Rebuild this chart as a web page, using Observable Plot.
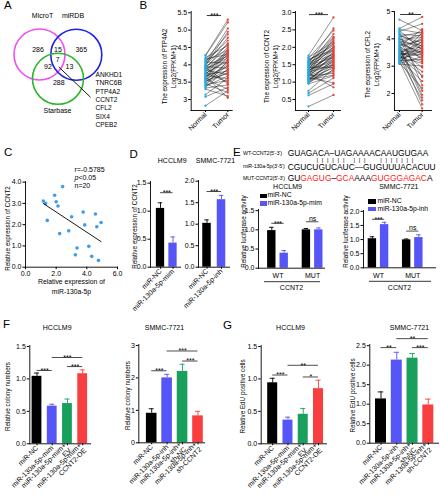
<!DOCTYPE html>
<html>
<head>
<meta charset="utf-8">
<script src="https://cdn.jsdelivr.net/npm/d3@7"></script>
<script src="https://cdn.jsdelivr.net/npm/@observablehq/plot@0.6"></script>
<style>
html, body { margin: 0; padding: 0; background: #fff; }
#fig { position: relative; width: 440px; height: 500px; overflow: hidden; font-family: "Liberation Sans", Arial, Helvetica, sans-serif; color: #000; background: #fff; }
#fig .t { position: absolute; white-space: pre; line-height: 1; }
#fig .box { position: absolute; }
</style>
</head>
<body>
<div id="fig"></div>
<script>
// ================= DATA =================
const vennSets = ["MicroT", "miRDB", "Starbase"];
// regions: MicroT only, MicroT∩miRDB, miRDB only, all three, MicroT∩Starbase, miRDB∩Starbase, Starbase only
const vennCounts = [286, 15, 365, 7, 92, 13, 288];
const sharedGenes = ["ANKHD1", "TNRC6B", "PTP4A2", "CCNT2", "CFL2", "SIX4", "CPEB2"];

const pairLabels = ["Normal", "Tumor"];
const ptp4a2Normal = [4.28,4.21,4.26,4.12,4.05,4.17,3.98,4.08,3.92,4.02,3.88,3.95,3.83,3.90,3.76,3.85,3.71,3.80,3.66,3.74,3.62,3.69,3.57,3.64,3.52,3.60,3.47,3.55,3.43,3.50,3.38,3.41,3.33,3.36,4.10,3.97,3.78,3.59,3.86,4.15,3.72,3.45,3.14,3.08,2.82,3.30,3.93,4.00,3.67,3.54];
const ptp4a2Tumor  = [5.30,4.55,5.22,4.42,5.05,4.30,4.95,4.05,4.50,4.78,4.20,3.90,4.35,4.62,4.10,3.72,4.45,4.28,3.95,4.15,4.32,3.60,4.02,4.38,3.85,4.22,3.78,4.08,3.55,3.98,3.68,4.12,3.42,3.88,4.70,4.25,3.50,3.30,4.40,4.88,3.82,3.20,3.62,3.35,3.25,3.10,3.45,4.60,3.05,3.75];
const ccnt2Normal = [1.76,1.31,1.58,0.97,1.44,1.12,1.69,1.25,1.05,1.52,1.38,0.95,1.63,1.19,1.47,1.08,1.34,1.71,1.22,1.01,1.55,1.29,1.15,1.41,0.99,1.66,1.36,1.09,1.49,1.27,1.18,1.61,1.03,1.43,1.32,1.21,1.53,0.75,1.13,1.39,0.68,1.26,1.57,0.62,1.17,1.46,0.30,1.35,1.07,1.24];
const ccnt2Tumor  = [2.86,1.85,2.30,1.52,2.12,1.40,2.48,1.95,1.62,1.80,2.20,1.18,2.05,1.72,2.38,1.30,1.60,2.15,1.88,1.45,2.54,1.50,1.78,1.98,1.35,1.92,2.02,1.55,1.70,2.25,1.25,2.10,1.68,1.42,1.82,1.58,2.00,1.38,0.98,1.76,1.12,0.85,1.90,0.95,1.48,2.28,0.63,1.65,1.20,1.74];
const cfl2Normal = [4.70,3.55,4.12,3.20,3.86,4.27,3.42,3.98,3.17,4.38,3.66,3.30,4.03,3.52,4.22,3.75,3.10,3.90,4.35,3.48,3.62,4.08,3.28,3.82,3.15,4.18,3.37,3.95,3.70,3.25,4.30,3.58,3.12,3.78,3.40,4.00,3.32,3.72,3.22,3.60,3.08,4.15,3.45,3.88,3.50,3.34,3.65,3.35,3.44,3.26];
const cfl2Tumor  = [4.30,3.55,3.85,3.25,4.18,4.55,2.80,4.05,1.45,4.80,4.00,3.45,3.20,1.60,2.30,3.95,3.35,3.75,4.20,3.88,2.10,4.25,3.92,3.50,3.80,4.10,4.22,2.60,3.30,2.45,3.60,3.70,2.20,1.95,3.65,3.62,1.75,4.35,3.58,2.95,3.00,3.72,3.40,3.42,3.15,3.10,1.85,2.65,3.50,4.10];
const ptp4a2Ticks = [3, 3.5, 4, 4.5, 5, 5.5];
const ptp4a2TickLabels = ["3", "3.5", "4", "4.5", "5.0", "5.5"];
const ccnt2Ticks = [0.5, 1, 1.5, 2, 2.5, 3];
const ccnt2TickLabels = ["0.5", "1.0", "1.5", "2.0", "2.5", "3.0"];
const cfl2Ticks = [2, 3, 4, 5];
const cfl2TickLabels = ["2", "3", "4", "5"];
const pairSig = ["***", "***", "**"];

const mir130aExpr = [1.16,1.31,1.42,1.90,2.00,2.12,2.23,2.42,2.82,3.01,3.25,3.36,3.76,3.86,4.13,4.32,4.56,4.65,4.76,4.93];
const ccnt2Expr   = [3.11,3.00,2.20,3.38,3.08,2.88,1.58,3.79,1.71,2.37,0.58,0.90,2.59,1.99,0.98,0.51,2.50,1.90,0.32,2.10];
const corrText = ["r=-0.5785", "p", "<0.05", "n=20"];

const seqNames = ["WT-CCNT2(5'-3')", "miR-130a-5p(3'-5')", "MUT-CCNT2(5'-3')"];
const seqWT = "GUAGACA–UAGAAAACAAUGUGAA";
const seqMiR = "CGUCUGUCAUC—GUGUUUACACUU";
const seqMutParts = [["GU", false], ["GAGUG", true], ["–", false], ["GCA", true], ["AAA", false], ["GUGGGAGAC", true], ["A", false]];
const seqPairs = "|||||| |||  |||||||";

const dHccLabels = ["miR-NC", "miR-130a-5p-mim"];
const dHccMean = [1.05, 0.43];
const dHccSd = [0.10, 0.11];
const dSmmcLabels = ["miR-NC", "miR-130a-5p-inh"];
const dSmmcMean = [1.02, 1.57];
const dSmmcSd = [0.08, 0.10];

const eGroups = ["WT", "MUT"];
const eHccNC = [0.98, 1.00];
const eHccNCSd = [0.085, 0.035];
const eHccMim = [0.39, 1.00];
const eHccMimSd = [0.07, 0.05];
const eSmmcNC = [1.03, 0.99];
const eSmmcNCSd = [0.07, 0.03];
const eSmmcInh = [1.53, 1.07];
const eSmmcInhSd = [0.08, 0.10];
const eLegendHcc = ["miR-NC", "miR-130a-5p-mim"];
const eLegendSmmc = ["miR-NC", "miR-130a-5p-inh"];

const fHccLabels = ["miR-NC", "miR-130a-5p-mim", "miR-130a-5p-mim+\nEV", "miR-130a-5p-mim+\nCCNT2-OE"];
const fSmmcLabels = ["miR-NC", "miR-130a-5p-inh", "miR-130a-5p-inh+\nsh-NC", "miR-130a-5p-inh+\nsh-CCNT2"];
const fHccMean = [1.04, 0.58, 0.62, 1.08];
const fHccSd = [0.05, 0.03, 0.07, 0.06];
const fSmmcMean = [0.91, 2.00, 2.20, 0.83];
const fSmmcSd = [0.14, 0.11, 0.22, 0.14];
const gHccMean = [0.94, 0.365, 0.455, 0.85];
const gHccSd = [0.07, 0.045, 0.09, 0.13];
const gSmmcMean = [1.135, 2.13, 2.18, 0.98];
const gSmmcSd = [0.18, 0.20, 0.12, 0.15];

// significance: [bar a, bar b, bracket value, label]
const dHccSig = [[0, 1, 1.33, "***"]];
const dSmmcSig = [[0, 1, 1.76, "***"]];
const eHccSig = [[0, 2, 1.17, "***"], [1, 3, 1.21, "ns"]];
const eSmmcSig = [[0, 2, 1.72, "***"], [1, 3, 1.30, "ns"]];
const fHccSig = [[0, 1, 1.13, "***"], [1, 3, 1.33, "***"], [2, 3, 1.19, "***"]];
const fSmmcSig = [[0, 1, 2.22, "***"], [1, 3, 2.83, "***"], [2, 3, 2.52, "***"]];
const gHccSig = [[0, 1, 1.06, "***"], [1, 3, 1.21, "**"], [2, 3, 1.03, "*"]];
const gSmmcSig = [[0, 1, 2.45, "**"], [1, 3, 2.68, "**"], [2, 3, 2.45, "***"]];

const ticks15 = [0, 0.5, 1, 1.5];
const ticks20 = [0, 0.5, 1, 1.5, 2];
const ticks25 = [0, 0.5, 1, 1.5, 2, 2.5];
const ticks3 = [0, 1, 2, 3];

// ================= STYLE / LAYOUT =================
const W = 440, H = 500;
const FONT = '"Liberation Sans", Arial, Helvetica, sans-serif';
const NORMAL_C = "#25a9e0", TUMOR_C = "#ee3d35", SCATTER_C = "#3e9cec";
const BK = "#000000", BL = "#5656f8", GR = "#18a05c", RD = "#f83e3e";
const VENN_COLORS = ["#f24ff2", "#1e22e8", "#2ab62a"];
const f1 = d3.format(".1f");
const fig = document.getElementById("fig");

function mk(frame, opts) {
  const [x0, y0, x1, y1] = frame;
  const el = Plot.plot(Object.assign({
    width: W, height: H,
    marginLeft: x0, marginTop: y0, marginRight: W - x1, marginBottom: H - y1,
    style: "background:transparent;font-family:" + FONT + ";font-size:7px;overflow:visible;position:absolute;left:0;top:0;",
    color: {type: "identity"}
  }, opts));
  fig.appendChild(el);
  return el;
}
function yTitle(frame, text, cx, cy, size = 6.3, lh = 1.5) {
  const [x0, y0, x1, y1] = frame;
  return Plot.text([text], {text: d => d, frameAnchor: "left", textAnchor: "middle", lineAnchor: "middle",
    rotate: -90, dx: cx - x0, dy: cy - (y0 + y1) / 2, fontSize: size, lineHeight: lh});
}
function label(frame, text, cx, cy, opts = {}) {
  const [x0, y0] = frame;
  return Plot.text([text], Object.assign({text: d => d, frameAnchor: "top-left", textAnchor: "middle", lineAnchor: "middle",
    dx: cx - x0, dy: cy - y0, fontSize: 7}, opts));
}
function axes() { return [Plot.frame({anchor: "left", strokeWidth: 0.9}), Plot.frame({anchor: "bottom", strokeWidth: 0.9})]; }

function pairedChart(p) {
  const pairs = p.normal.map((n, i) => ({n, t: p.tumor[i]}));
  const mid = (p.sigX[0] + p.sigX[1]) / 2;
  mk(p.frame, {
    x: {domain: p.xDomain}, y: {domain: p.yDomain},
    marks: [
      Plot.link(pairs, {x1: 0, x2: 1, y1: "n", y2: "t", stroke: "#111", strokeWidth: 0.45}),
      Plot.dot(pairs, {x: 0, y: "n", r: 1.15, fill: NORMAL_C}),
      Plot.dot(pairs, {x: 1, y: "t", r: 1.15, fill: TUMOR_C}),
      Plot.ruleY([p.sigY], {x1: p.sigX[0], x2: p.sigX[1], strokeWidth: 0.8}),
      Plot.text([p.sig], {text: d => d, x: mid, y: p.sigY, lineAnchor: "bottom", dy: 2.4, fontSize: 7}),
      ...axes(),
      Plot.axisY({ticks: p.yTicks, tickFormat: d => p.yLabels[p.yTicks.indexOf(d)], tickSize: 2.5, tickPadding: 1.5, label: null}),
      Plot.axisX({ticks: [0, 1], tickFormat: d => pairLabels[d], tickRotate: -45, tickSize: 2, tickPadding: 1, label: null}),
      yTitle(p.frame, p.yTitle, p.tx, p.ty)
    ]
  });
}

function barChart(c) {
  const [x0, y0, x1, y1] = c.frame;
  const half = c.barW / 2 / c.step, cap = c.capW / 2 / c.step;
  const xs = c.xs;
  const rows = c.values.map((v, i) => ({x: xs[i], v, e: v + c.sds[i], fill: c.colors[i]}));
  const sig = c.sig.map(([a, b, y, t]) => ({x1: xs[a], x2: xs[b], xm: (xs[a] + xs[b]) / 2, y, t}));
  mk(c.frame, {
    x: {domain: [(x0 - c.c0) / c.step, (x1 - c.c0) / c.step]},
    y: {domain: c.yDomain},
    marks: [
      Plot.rectY(rows, {x1: d => d.x - half, x2: d => d.x + half, y1: 0, y2: "v", fill: "fill"}),
      Plot.ruleX(rows, {x: "x", y1: "v", y2: "e", stroke: "fill", strokeWidth: 0.9}),
      Plot.ruleY(rows, {y: "e", x1: d => d.x - cap, x2: d => d.x + cap, stroke: "fill", strokeWidth: 0.9}),
      Plot.ruleY(sig, {y: "y", x1: "x1", x2: "x2", strokeWidth: 0.8, stroke: "#222"}),
      Plot.text(sig.filter(d => d.t !== "ns"), {x: "xm", y: "y", text: "t", lineAnchor: "bottom", dy: 2.4, fontSize: 7}),
      Plot.text(sig.filter(d => d.t === "ns"), {x: "xm", y: "y", text: "t", lineAnchor: "bottom", dy: -1.2, fontSize: 7}),
      ...axes(),
      Plot.axisY({ticks: c.yTicks, tickFormat: c.yFmt, tickSize: 2.5, tickPadding: 1.5, label: null}),
      Plot.axisX({ticks: c.tickPos, tickFormat: d => c.tickLabels[c.tickPos.indexOf(d)], tickRotate: c.rotate ?? -45,
        tickSize: c.tickSize ?? 2, tickPadding: c.tickPad ?? 1, label: null}),
      c.title ? label(c.frame, c.title, c.titleX, c.titleY) : null,
      c.yTitle ? yTitle(c.frame, c.yTitle, c.yTitleX, c.yTitleY) : null,
      ...(c.extra || [])
    ].filter(Boolean)
  });
}

// ---------- Panel A: Venn ----------
const vennCircles = [[39, 54], [75.8, 54.2], [57.5, 78.3]];
const vennSetPos = [[42, 15], [72.5, 15], [57, 110]];
const vennCountPos = [[37.5, 49.3], [57.5, 49.3], [80.8, 49.3], [57.3, 59.3], [47.5, 66], [69, 66], [58.3, 82.7]];
const geneY0 = 74, geneStep = 8.45, geneX = 95;
mk([0, 0, W, H], {
  x: {domain: [0, W], range: [0, W], axis: null},
  y: {domain: [0, H], range: [0, H], axis: null},
  marks: [
    Plot.dot(vennSets.map((s, i) => ({x: vennCircles[i][0], y: vennCircles[i][1], c: VENN_COLORS[i]})),
      {x: "x", y: "y", r: 25.5, stroke: "c", strokeWidth: 1.6, fill: "none"}),
    Plot.link([{x1: 58.3, y1: 66.5, x2: 90, y2: 96.7}], {x1: "x1", y1: "y1", x2: "x2", y2: "y2", strokeWidth: 0.9}),
    Plot.text(vennSets.map((s, i) => ({s, x: vennSetPos[i][0], y: vennSetPos[i][1]})), {x: "x", y: "y", text: "s", fontSize: 7}),
    Plot.text(vennCounts.map((n, i) => ({n, x: vennCountPos[i][0], y: vennCountPos[i][1]})), {x: "x", y: "y", text: d => String(d.n), fontSize: 7}),
    Plot.text(sharedGenes.map((g, i) => ({g, i})), {x: geneX, y: d => geneY0 + d.i * geneStep, text: "g", textAnchor: "start", fontSize: 6.6})
  ]
});

// ---------- Panel B ----------
pairedChart({frame: [190.7, 11, 231.7, 110], xDomain: [-0.641, 1.197], yDomain: [2.683, 5.537],
  normal: ptp4a2Normal, tumor: ptp4a2Tumor, yTicks: ptp4a2Ticks, yLabels: ptp4a2TickLabels,
  sigY: 5.42, sigX: [0.08, 0.72], sig: pairSig[0], yTitle: "The expression of PTP4A2\nLog2(FPKM+1)", tx: 167.7, ty: 66});
pairedChart({frame: [295, 11, 340, 110], xDomain: [-0.52, 1.28], yDomain: [0.184, 3.029],
  normal: ccnt2Normal, tumor: ccnt2Tumor, yTicks: ccnt2Ticks, yLabels: ccnt2TickLabels,
  sigY: 2.94, sigX: [0.04, 0.8], sig: pairSig[1], yTitle: "The expression of CCNT2\nLog2(FPKM+1)", tx: 270, ty: 66});
pairedChart({frame: [394, 11, 431, 110], xDomain: [-0.22, 1.41], yDomain: [1.378, 5.0],
  normal: cfl2Normal, tumor: cfl2Tumor, yTicks: cfl2Ticks, yLabels: cfl2TickLabels,
  sigY: 4.89, sigX: [0.05, 0.97], sig: pairSig[2], yTitle: "The expression of CFL2\nLog2(FPKM+1)", tx: 371, ty: 64});

// ---------- Panel C ----------
const cFrame = [25, 181, 117, 266.7];
const scatterRows = mir130aExpr.map((x, i) => ({x, y: ccnt2Expr[i]}));
mk(cFrame, {
  x: {domain: [0, 6]}, y: {domain: [0, 4.03]},
  marks: [
    ...axes(),
    Plot.axisX({ticks: [0, 2, 4, 6], tickSize: 2.5, tickPadding: 1.5, label: null}),
    Plot.axisY({ticks: [0, 1, 2, 3, 4], tickSize: 2.5, tickPadding: 1.5, label: null}),
    Plot.dot(scatterRows, {x: "x", y: "y", r: 1.8, fill: SCATTER_C}),
    Plot.linearRegressionY(scatterRows, {x: "x", y: "y", stroke: "#000", strokeWidth: 0.9, ci: 0}),
    label(cFrame, corrText[0], 74, 169.3, {textAnchor: "start"}),
    label(cFrame, corrText[1], 74, 177.5, {textAnchor: "start", fontStyle: "italic"}),
    label(cFrame, corrText[2], 77.9, 177.5, {textAnchor: "start"}),
    label(cFrame, corrText[3], 74, 185.7, {textAnchor: "start"}),
    yTitle(cFrame, "Relative expression of CCNT2", 6.7, 228),
    label(cFrame, "Relative expression of\nmiR-130a-5p", 71, 285.3, {fontSize: 6.8, lineHeight: 1.4})
  ]
});

// ---------- Panel D ----------
barChart({frame: [150, 181, 180, 266.7], c0: 160, step: 12.5, barW: 8.3, capW: 4.5, xs: [0, 1],
  values: dHccMean, sds: dHccSd, colors: [BK, BL], yDomain: [0, 1.53], yTicks: ticks15, yFmt: f1,
  tickPos: [0, 1], tickLabels: dHccLabels, sig: dHccSig, title: "HCCLM9", titleX: 171.7, titleY: 160,
  yTitle: "Relative expression of CCNT2", yTitleX: 133, yTitleY: 226});
barChart({frame: [198, 180, 229, 266.7], c0: 206.5, step: 14.5, barW: 8.5, capW: 4.5, xs: [0, 1],
  values: dSmmcMean, sds: dSmmcSd, colors: [BK, BL], yDomain: [0, 2.016], yTicks: ticks20, yFmt: f1,
  tickPos: [0, 1], tickLabels: dSmmcLabels, sig: dSmmcSig, title: "SMMC-7721", titleX: 215, titleY: 160});

// ---------- Panel E ----------
function eChart(frame, c0, step, off, nc, ncSd, tr, trSd, sig, yDomain, yTicks, title, tx, yTx) {
  const d = off / step;
  barChart({frame, c0, step, barW: 8.4, capW: 4.5, xs: [0 - d, 1 - d, 0 + d, 1 + d],
    values: [...nc, ...tr], sds: [...ncSd, ...trSd], colors: [BK, BK, BL, BL], yDomain, yTicks, yFmt: f1,
    tickPos: [0, 1], tickLabels: eGroups, rotate: 0, tickSize: 0, tickPad: 5, sig,
    title, titleX: tx, titleY: 186.5, yTitle: "Relative luciferase activity", yTitleX: yTx, yTitleY: 231,
    extra: [
      Plot.ruleY([0], {dy: 13.5, insetLeft: 6, insetRight: 4, strokeWidth: 0.8}),
      Plot.text(["CCNT2"], {text: v => v, frameAnchor: "bottom", lineAnchor: "middle", textAnchor: "middle", dy: 20, fontSize: 7})
    ]});
}
eChart([258, 209, 324, 267.7], 277.5, 34.6, 6.2, eHccNC, eHccNCSd, eHccMim, eHccMimSd, eHccSig, [0, 1.53], ticks15, "HCCLM9", 287, 242.7);
eChart([363, 210, 435, 267.3], 378, 34.25, 6.1, eSmmcNC, eSmmcNCSd, eSmmcInh, eSmmcInhSd, eSmmcSig, [0, 2.03], ticks20, "SMMC-7721", 398.3, 344);

// ---------- Panel F / G ----------
barChart({frame: [29.3, 345, 90, 443.3], c0: 36.5, step: 15.23, barW: 9.8, capW: 5, xs: [0, 1, 2, 3],
  values: fHccMean, sds: fHccSd, colors: [BK, BL, GR, RD], yDomain: [0, 1.515], yTicks: ticks15, yFmt: f1,
  tickPos: [0, 1, 2, 3], tickLabels: fHccLabels, sig: fHccSig, title: "HCCLM9", titleX: 56.7, titleY: 327.3,
  yTitle: "Relative colony numbers", yTitleX: 6.8, yTitleY: 396});
barChart({frame: [138.3, 344, 204, 442.3], c0: 151.2, step: 15.43, barW: 10.6, capW: 5, xs: [0, 1, 2, 3],
  values: fSmmcMean, sds: fSmmcSd, colors: [BK, BL, GR, RD], yDomain: [0, 3.03], yTicks: ticks3, yFmt: d3.format("d"),
  tickPos: [0, 1, 2, 3], tickLabels: fSmmcLabels, sig: fSmmcSig, title: "SMMC-7721", titleX: 164, titleY: 327.3,
  yTitle: "Relative colony numbers", yTitleX: 126, yTitleY: 395});
barChart({frame: [260.7, 345, 326, 443.3], c0: 272.2, step: 15.27, barW: 10, capW: 5, xs: [0, 1, 2, 3],
  values: gHccMean, sds: gHccSd, colors: [BK, BL, GR, RD], yDomain: [0, 1.515], yTicks: ticks15, yFmt: f1,
  tickPos: [0, 1, 2, 3], tickLabels: fHccLabels, sig: gHccSig, title: "HCCLM9", titleX: 290, titleY: 327.3,
  yTitle: "Relative EdU positive cells", yTitleX: 241.7, yTitleY: 396});
barChart({frame: [369.3, 344, 438, 442.7], c0: 380.5, step: 15.77, barW: 11, capW: 5.5, xs: [0, 1, 2, 3],
  values: gSmmcMean, sds: gSmmcSd, colors: [BK, BL, GR, RD], yDomain: [0, 2.53], yTicks: ticks25, yFmt: f1,
  tickPos: [0, 1, 2, 3], tickLabels: fSmmcLabels, sig: gSmmcSig, title: "SMMC-7721", titleX: 409, titleY: 327.3,
  yTitle: "Relative EdU positive cells", yTitleX: 351.7, yTitleY: 395});

// ---------- HTML annotations: letters, sequences, legends ----------
function htext(str, left, cy, size, extra = "") {
  const el = document.createElement("div");
  el.className = "t";
  el.style.cssText = `left:${left}px;top:${(cy - 0.49 * size).toFixed(2)}px;font-size:${size}px;${extra}`;
  el.textContent = str;
  fig.appendChild(el);
  return el;
}
function hbox(left, top, w, h, color) {
  const el = document.createElement("div");
  el.className = "box";
  el.style.cssText = `left:${left}px;top:${top}px;width:${w}px;height:${h}px;background:${color};`;
  fig.appendChild(el);
}
const letters = [["A", 4, 6], ["B", 139.5, 6], ["C", 4, 152.5], ["D", 129.5, 154.2], ["E", 233, 152.2], ["F", 3, 324.2], ["G", 223, 325.9]];
letters.forEach(([s, x, cy]) => htext(s, x, cy, 11.5));

const nameStyle = "letter-spacing:-0.12px;";
htext(seqNames[0], 243, 153.3, 5.3, nameStyle);
htext(seqNames[1], 243, 166.7, 5.3, nameStyle);
htext(seqNames[2], 243, 178.3, 5.3, nameStyle);
htext(seqWT, 287.7, 153.3, 8.4);
htext(seqMiR, 287.7, 166.7, 8.4);
htext(seqPairs, 316.5, 160, 6, "letter-spacing:3.72px;");
const mutEl = htext("", 287.7, 178.3, 8.4);
seqMutParts.forEach(([s, mut]) => {
  const sp = document.createElement("span");
  sp.textContent = s;
  if (mut) sp.style.color = "#ff2020";
  mutEl.appendChild(sp);
});

// legends
hbox(260, 193.5, 6.5, 4.5, BK); htext(eLegendHcc[0], 267.5, 195.7, 6.8);
hbox(260, 201, 6.5, 4.5, BL); htext(eLegendHcc[1], 267.5, 203.2, 6.8);
hbox(368, 199.3, 8, 4.5, BK); htext(eLegendSmmc[0], 377.5, 201.6, 6.8);
hbox(368, 206.6, 8, 4.5, BL); htext(eLegendSmmc[1], 377.5, 208.9, 6.8);
</script>
</body>
</html>
